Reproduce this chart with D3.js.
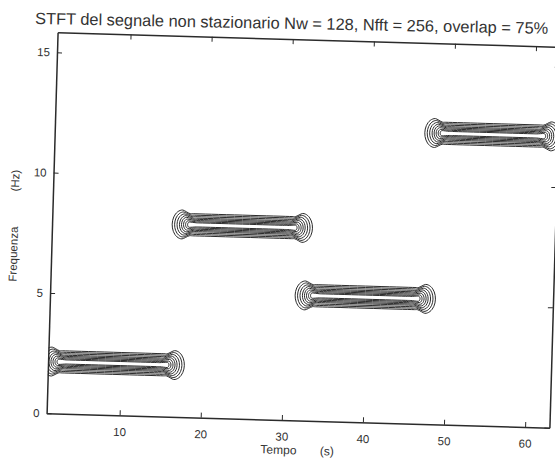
<!DOCTYPE html>
<html><head><meta charset="utf-8">
<script src="https://cdn.jsdelivr.net/npm/d3@7"></script>
<style>
body{margin:0;background:#fff}
text{font-family:"Liberation Sans",Arial,Helvetica,sans-serif;fill:#333}
</style>
</head><body>
<svg id="c" width="555" height="461"></svg>
<script>
// ---------- data ----------
const titleText = "STFT del segnale non stazionario Nw = 128, Nfft = 256, overlap = 75%";
const xLabel = "Tempo       (s)";
const yLabel = "Frequenza           (Hz)";
const xTicks = [10, 20, 30, 40, 50, 60];
const yTicks = [0, 5, 10, 15];
const xDomain = [1, 63];
const yDomain = [0, 15.83];
// time extent of the outermost contour of each tone and its frequency
const segStart = [0.2, 15.8, 31.2, 46.6];
const segEnd   = [17.8, 33.1, 48.5, 63.4];
const segFreq  = [2.15, 8.0, 5.2, 12.1];
// contour levels: half-width in the middle (Hz), half-width at the flared ends (Hz), cap inset (s)
const levelMid   = [0.46, 0.40, 0.34, 0.28, 0.23, 0.18, 0.13, 0.085];
const levelEnd   = [0.60, 0.52, 0.44, 0.37, 0.30, 0.23, 0.16, 0.11];
const levelInset = [0, 0.3, 0.6, 0.9, 1.15, 1.4, 1.65, 1.9];

// ---------- layout ----------
const plot = {left: 52, right: 555, top: 39.5, bottom: 420.5};
const angle = 1.65, cx = (plot.left + plot.right) / 2, cy = (plot.top + plot.bottom) / 2;

const svg = d3.select("#c");
const x = d3.scaleLinear().domain(xDomain).range([plot.left, plot.right]);
const y = d3.scaleLinear().domain(yDomain).range([plot.bottom, plot.top]);

// title (scanned slightly skewed)
const title = svg.append("text")
  .attr("transform", "translate(35,24) rotate(1.1)")
  .style("font-size", "14px").attr("fill", "#444")
  .text(titleText);
const tl = title.node().getComputedTextLength();
title.style("font-size", (14 * 514 / tl) + "px");

const g = svg.append("g").attr("transform", `rotate(${angle},${cx},${cy})`);

g.append("clipPath").attr("id", "clip")
  .append("rect").attr("x", plot.left).attr("y", plot.top)
  .attr("width", plot.right - plot.left).attr("height", plot.bottom - plot.top);

// contour shape for one level of one tone
function contourPoints(a, b, f, hm, he, inset) {
  const L = a + inset, R = b - inset;
  const ac = 2.1 * he;
  const pts = [];
  pts.push([L + ac + 0.9, f + hm], [L + ac + 1.3, f + hm], [R - ac - 1.3, f + hm], [R - ac - 0.9, f + hm]);
  for (let d = 90; d >= -90; d -= 15) {
    const r = d * Math.PI / 180;
    pts.push([R - ac + ac * Math.cos(r), f + he * Math.sin(r)]);
  }
  pts.push([R - ac - 0.9, f - hm], [R - ac - 1.3, f - hm], [L + ac + 1.3, f - hm], [L + ac + 0.9, f - hm]);
  for (let d = 270; d >= 90; d -= 15) {
    const r = d * Math.PI / 180;
    pts.push([L + ac + ac * Math.cos(r), f + he * Math.sin(r)]);
  }
  return pts;
}

const line = d3.line().x(d => x(d[0])).y(d => y(d[1])).curve(d3.curveCatmullRomClosed.alpha(0.5));

const cont = g.append("g").attr("clip-path", "url(#clip)");
segFreq.forEach((f, i) => {
  levelMid.forEach((hm, k) => {
    cont.append("path")
      .attr("d", line(contourPoints(segStart[i], segEnd[i], f, hm, levelEnd[k], levelInset[k])))
      .attr("fill", "none").attr("stroke", "#222").attr("stroke-width", 0.95);
  });
});

// axes (MATLAB style: inward ticks, full box)
const fs = "11.5px";
const axB = g.append("g").attr("transform", `translate(0,${plot.bottom})`)
  .call(d3.axisBottom(x).tickValues(xTicks).tickSizeInner(-5).tickSizeOuter(0).tickPadding(12.5));
const axL = g.append("g").attr("transform", `translate(${plot.left},0)`)
  .call(d3.axisLeft(y).tickValues(yTicks).tickSizeInner(-5).tickSizeOuter(0).tickPadding(7));
const axT = g.append("g").attr("transform", `translate(0,${plot.top})`)
  .call(d3.axisTop(x).tickValues(xTicks).tickSizeInner(-5).tickSizeOuter(0).tickFormat(""));
const axR = g.append("g").attr("transform", `translate(${plot.right},0)`)
  .call(d3.axisRight(y).tickValues(yTicks).tickSizeInner(-5).tickSizeOuter(0).tickFormat(""));
[axB, axL, axT, axR].forEach(a => {
  a.select(".domain").attr("stroke", "#2b2b2b").attr("stroke-width", 1.5);
  a.selectAll(".tick line").attr("stroke", "#2b2b2b").attr("stroke-width", 1);
  a.selectAll("text").style("font-size", fs).attr("fill", "#3a3a3a")
    .style("font-family", '"Liberation Sans",Arial,Helvetica,sans-serif');
});

g.append("text")
  .attr("x", cx).attr("y", plot.bottom + 34)
  .attr("text-anchor", "middle").style("font-size", "12px").style("white-space", "pre")
  .text(xLabel);
g.append("text")
  .attr("transform", `translate(${plot.left - 34},${cy + 4}) rotate(-90)`)
  .attr("text-anchor", "middle").style("font-size", "11.5px").style("white-space", "pre")
  .text(yLabel);
</script>
</body></html>
